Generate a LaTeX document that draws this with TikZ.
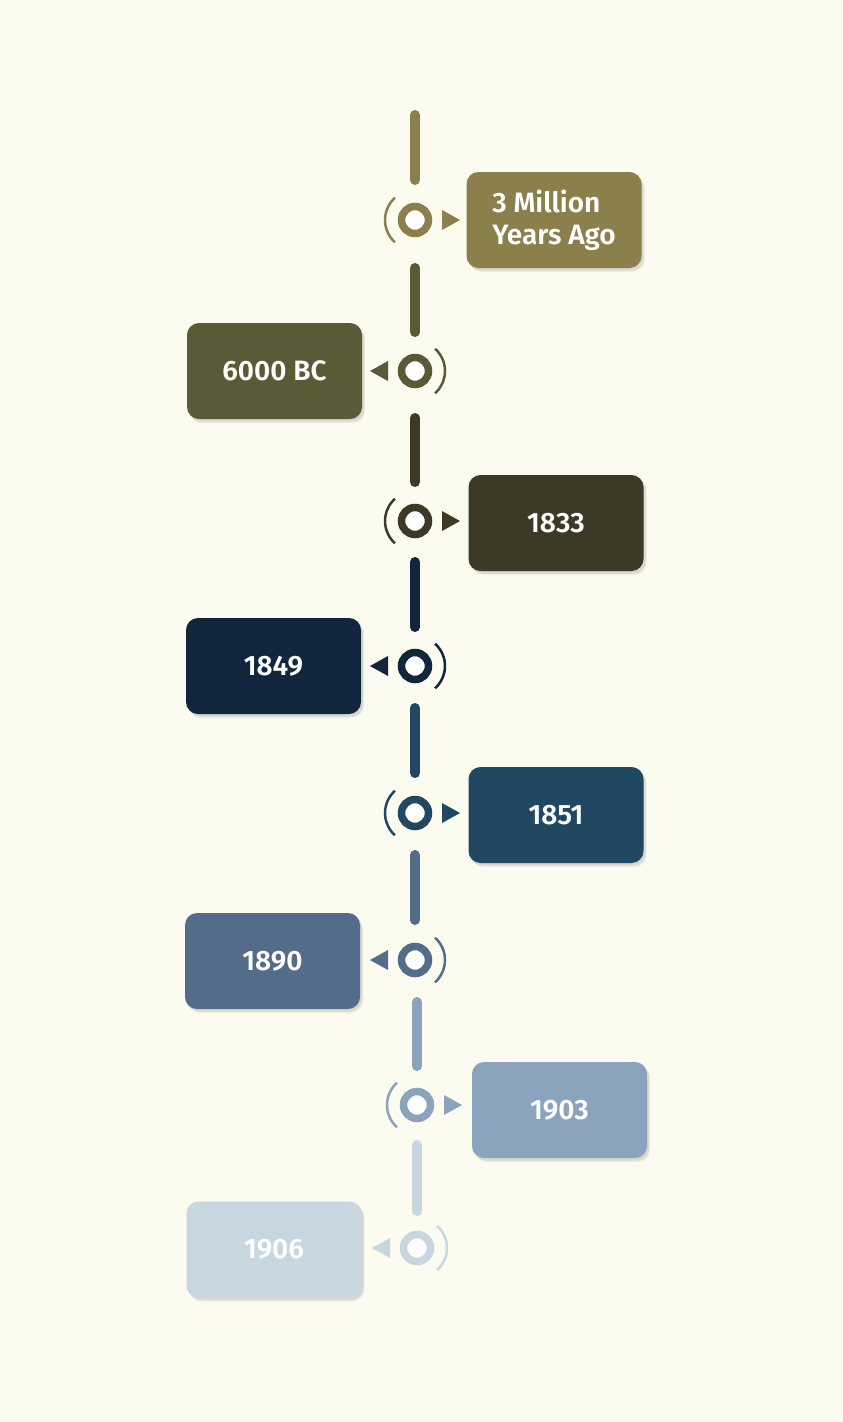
\documentclass[tikz,border=0pt]{standalone}
\usepackage{fontspec}
\setmainfont{Fira Sans}[BoldFont={* SemiBold}]
\usetikzlibrary{shadows}
\definecolor{bg}{HTML}{FBFBEF}
\definecolor{c1}{HTML}{8B7F4B}
\definecolor{c2}{HTML}{5B5A36}
\definecolor{c3}{HTML}{3D3926}
\definecolor{c4}{HTML}{11253D}
\definecolor{c5}{HTML}{214863}
\definecolor{c6}{HTML}{536C8A}
\definecolor{c7}{HTML}{8BA3BC}
\definecolor{c8}{HTML}{C8D6E0}
\begin{document}
\begin{tikzpicture}[x=1pt,y=-1pt,
  box/.style={fill=#1, rounded corners=12pt, minimum width=175pt, minimum height=96pt,
    text=white, font=\bfseries\fontsize{28}{32}\selectfont, align=left, inner sep=0pt,
    drop shadow={opacity=0.12, shadow xshift=3pt, shadow yshift=-4pt},
    drop shadow={opacity=0.18, shadow xshift=2pt, shadow yshift=-2.5pt}},
  ring/.style={circle, draw=#1, line width=7.5pt, fill=white, minimum size=27pt, inner sep=0pt},
  seg/.style={line width=10pt, line cap=round, draw=#1},
  bracket/.style={line width=2.5pt, draw=#1}
]
\fill[bg] (0,0) rectangle (843,1422);
\useasboundingbox (0,0) rectangle (843,1422);

% markers
\node[ring=c1] (m1) at (415,220) {};
\node[ring=c2] (m2) at (415,371) {};
\node[ring=c3] (m3) at (415,521) {};
\node[ring=c4] (m4) at (415,666) {};
\node[ring=c5] (m5) at (415,813) {};
\node[ring=c6] (m6) at (415,960) {};
\node[ring=c7] (m7) at (417,1105) {};
\node[ring=c8] (m8) at (417,1248) {};

% boxes
\node[box=c1] (b1) at (554,220) {3 Million\\Years Ago};
\node[box=c2] (b2) at (274.5,371) {6000 BC};
\node[box=c3] (b3) at (556,523) {1833};
\node[box=c4] (b4) at (273.5,666) {1849};
\node[box=c5] (b5) at (556,815) {1851};
\node[box=c6] (b6) at (272.5,961) {1890};
\node[box=c7] (b7) at (559.5,1110) {1903};
\node[box=c8] (b8) at (274,1249.5) {1906};

% segments
\coordinate (top) at (415,115);
\draw[seg=c1] (top) -- ([yshift=40pt]m1.center);
\draw[seg=c2] ([yshift=-48pt]m1.center) -- ([yshift=39pt]m2.center);
\draw[seg=c3] ([yshift=-47pt]m2.center) -- ([yshift=39pt]m3.center);
\draw[seg=c4] ([yshift=-41pt]m3.center) -- ([yshift=39pt]m4.center);
\draw[seg=c5] ([yshift=-42pt]m4.center) -- ([yshift=40pt]m5.center);
\draw[seg=c6] ([yshift=-42pt]m5.center) -- ([yshift=40pt]m6.center);
\draw[seg=c7] ([yshift=-42pt]m6.center -| m7.center) -- ([yshift=39pt]m7.center);
\draw[seg=c8] ([yshift=-40pt]m7.center) -- ([yshift=37pt]m8.center);

% triangles and brackets (right-pointing)
\foreach \m/\c in {m1/c1, m3/c3, m5/c5, m7/c7}{
  \fill[\c] ([shift={(27,-10)}]\m.center) -- ([shift={(45,0)}]\m.center) -- ([shift={(27,10)}]\m.center) -- cycle;
  \draw[bracket=\c] ([shift={(132:30)}]\m.center) arc[start angle=132, end angle=228, radius=30];
}
% left-pointing
\foreach \m/\c in {m2/c2, m4/c4, m6/c6, m8/c8}{
  \fill[\c] ([shift={(-27,-10)}]\m.center) -- ([shift={(-45,0)}]\m.center) -- ([shift={(-27,10)}]\m.center) -- cycle;
  \draw[bracket=\c] ([shift={(-48:30)}]\m.center) arc[start angle=-48, end angle=48, radius=30];
}
\end{tikzpicture}
\end{document}
